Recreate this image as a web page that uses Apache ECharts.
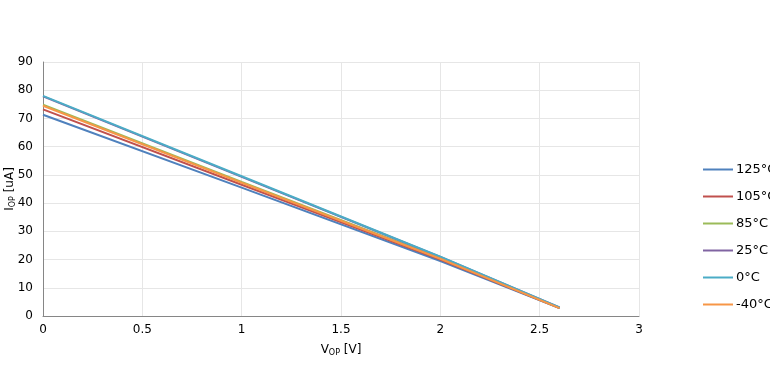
<!DOCTYPE html>
<html>
<head>
<meta charset="utf-8">
<script src="https://cdn.jsdelivr.net/npm/echarts@6/dist/echarts.min.js"></script>
<style>
  html, body { margin: 0; padding: 0; background: #fff; }
  #chart { width: 770px; height: 376px; }
</style>
</head>
<body>
<div id="chart"></div>
<script>
// x values (V_OP, volts)
var vop = [0, 1, 2, 2.6];
// I_OP [uA] per temperature
var names = ['125°C', '105°C', '85°C', '25°C', '0°C', '-40°C'];
var i125 = [71.3, 45.5, 19.5, 2.8];
var i105 = [73.2, 46.5, 20.0, 2.8];
var i85 = [74.9, 47.5, 20.5, 2.9];
var i25 = [77.8, 49.3, 20.9, 3.0];
var i0 = [78.0, 49.5, 21.0, 3.0];
var im40 = [74.5, 47.2, 20.3, 2.8];
var colors = ['#4F81BD', '#C0504D', '#9BBB59', '#8064A2', '#4BACC6', '#F79646'];

var all = [i125, i105, i85, i25, i0, im40];

var chart = echarts.init(document.getElementById('chart'));

var series = all.map(function (vals, k) {
  return {
    name: names[k],
    type: 'line',
    symbol: 'none',
    data: vop.map(function (x, j) { return [x, vals[j]]; }),
    lineStyle: { width: 2, color: colors[k] },
    itemStyle: { color: colors[k] }
  };
});

var option = {
  animation: false,
  textStyle: { fontFamily: 'DejaVu Sans' },
  grid: { left: 43, right: 131, top: 62, bottom: 60, outerBoundsMode: 'none', containLabel: false },
  legend: {
    orient: 'vertical',
    left: 703,
    top: 163,
    padding: 0,
    itemWidth: 30,
    itemHeight: 2,
    itemGap: 14,
    icon: 'rect',
    data: names,
    textStyle: { fontSize: 13, color: '#000', padding: [0, 0, 0, -2] }
  },
  xAxis: {
    type: 'value',
    min: 0, max: 3, interval: 0.5,
    name: '{a|V}{s|OP}{a| [V]}',
    nameLocation: 'middle',
    nameGap: 27,
    nameMoveOverlap: false,
    nameTextStyle: {
      rich: {
        a: { fontSize: 12, color: '#000' },
        s: { fontSize: 8, color: '#000', verticalAlign: 'bottom', padding: [6, 0, 0, 0] }
      }
    },
    axisLine: { lineStyle: { color: '#868686', width: 1 } },
    axisTick: { show: false },
    axisLabel: { color: '#000', fontSize: 12, margin: 8 },
    splitLine: { show: true, lineStyle: { color: '#e6e6e6' } }
  },
  yAxis: {
    type: 'value',
    min: 0, max: 90, interval: 10,
    name: '{a|I}{s|OP}{a| [uA]}',
    nameLocation: 'middle',
    nameGap: 33,
    nameMoveOverlap: false,
    nameTextStyle: {
      align: 'center',
      verticalAlign: 'middle',
      rich: {
        a: { fontSize: 12, color: '#000' },
        s: { fontSize: 8, color: '#000', verticalAlign: 'bottom', padding: [6, 0, 0, 0] }
      }
    },
    axisLine: { show: true, lineStyle: { color: '#868686', width: 1 } },
    axisTick: { show: false },
    axisLabel: { color: '#000', fontSize: 12, margin: 10 },
    splitLine: { show: true, lineStyle: { color: '#e6e6e6' } }
  },
  series: series
};

chart.setOption(option);
</script>
</body>
</html>
